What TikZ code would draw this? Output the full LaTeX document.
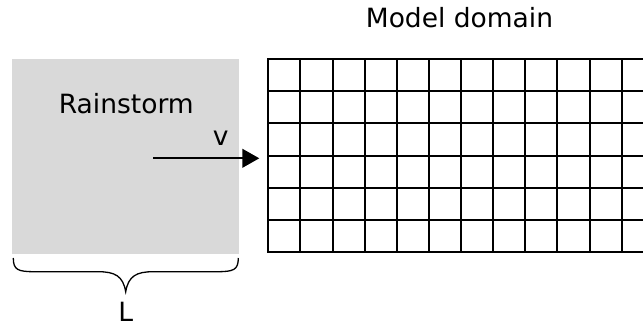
\documentclass[tikz,border=0pt]{standalone}
\usepackage{fontspec}
\setmainfont{DejaVu Sans}
\usetikzlibrary{arrows.meta}
\definecolor{stormgray}{HTML}{D9D9D9}
\begin{document}
\begin{tikzpicture}[x=1pt,y=-1pt,
  lbl/.style={anchor=base,inner sep=0pt,font=\fontsize{26.5}{30}\selectfont},
  gridline/.style={line width=2pt,black},
  flow/.style={line width=2pt,-{Triangle[length=17pt,width=18.7pt]}},
  bracestyle/.style={line width=1.3pt}]
\useasboundingbox (0,0) rectangle (643,326);
% rainstorm box
\node[fill=stormgray,draw=none,inner sep=0pt,minimum width=227pt,minimum height=194.3pt,anchor=north west] (storm) at (12,59) {};
\node[lbl] (stormlabel) at (126.3,113.3) {Rainstorm};
% model domain grid
\coordinate (gridnw) at (268.3,59.3);
\foreach \i in {0,...,6} {
  \draw[gridline] (268.3-1,59.3+\i*32.07) -- (643,59.3+\i*32.07);
}
\foreach \j in {0,...,11} {
  \draw[gridline] (268.3+\j*32.13,59.3) -- (268.3+\j*32.13,251.7);
}
\node[lbl] (domainlabel) at (459.5,27.7) {Model domain};
% velocity arrow
\coordinate (vstart) at (153.3,158.3);
\coordinate (vend) at (259.3,158.3);
\draw[flow] (vstart) -- (vend);
\node[lbl] (vlabel) at (220.7,145.7) {v};
% brace
\draw[bracestyle] (13.3,258) .. controls (13.3,270) and (18,271.7) .. (35,271.7)
  -- (98,271.7) .. controls (115,271.7) and (123,276) .. (125.7,291.7)
  .. controls (128.4,276) and (136.4,271.7) .. (153.4,271.7)
  -- (216.6,271.7) .. controls (233.6,271.7) and (238.3,270) .. (238.3,258);
\node[lbl] (Llabel) at (125.7,321) {L};
\end{tikzpicture}
\end{document}
